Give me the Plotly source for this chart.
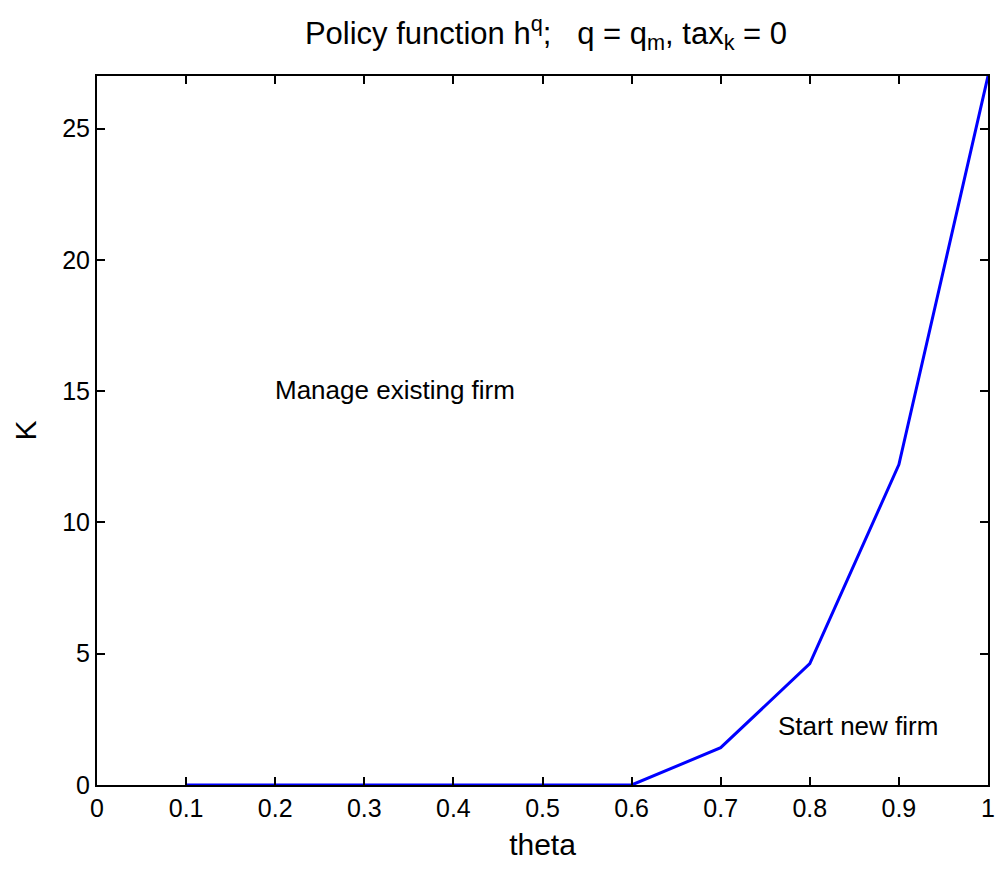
import plotly.graph_objects as go

theta = [0.1, 0.2, 0.3, 0.4, 0.5, 0.6, 0.7, 0.8, 0.9, 1.0]
K = [0, 0, 0, 0, 0, 0, 1.42, 4.62, 12.2, 27.0]
x_ticks = [0, 0.1, 0.2, 0.3, 0.4, 0.5, 0.6, 0.7, 0.8, 0.9, 1]
x_ticklabels = ["0", "0.1", "0.2", "0.3", "0.4", "0.5", "0.6", "0.7", "0.8", "0.9", "1"]
y_ticks = [0, 5, 10, 15, 20, 25]

font_family = "Liberation Sans, Arial, sans-serif"

fig = go.Figure()
fig.add_trace(go.Scatter(x=theta, y=K, mode="lines",
                         line=dict(color="rgb(0,0,255)", width=3),
                         showlegend=False))

fig.add_annotation(x=0.198, y=15.05, text="Manage existing firm", showarrow=False,
                   xanchor="left", yanchor="middle", font=dict(size=26, color="black"))
fig.add_annotation(x=0.762, y=2.25, text="Start new firm", showarrow=False,
                   xanchor="left", yanchor="middle", font=dict(size=26, color="black"))

axis_common = dict(showline=True, linecolor="black", linewidth=2, mirror="ticks",
                   ticks="inside", ticklen=8, tickwidth=1.5, tickcolor="black",
                   showgrid=False, zeroline=False,
                   tickfont=dict(size=25, color="black"))

fig.update_xaxes(range=[0, 1], tickvals=x_ticks, ticktext=x_ticklabels,
                 title=dict(text="theta", font=dict(size=30, color="black"), standoff=13),
                 **axis_common)
fig.update_yaxes(range=[0, 27], tickvals=y_ticks,
                 title=dict(text="K", font=dict(size=30, color="black"), standoff=17),
                 **axis_common)

fig.update_layout(
    width=1004, height=869,
    margin=dict(l=97, r=9, t=76, b=84),
    paper_bgcolor="white", plot_bgcolor="white",
    font=dict(family=font_family, color="black"),
    title=dict(text="Policy function h<sup>q</sup>;   q = q<sub>m</sub>, tax<sub>k</sub> = 0",
               x=(97 + 995) / 2 / 1004, xanchor="center", y=0.962, yanchor="middle",
               font=dict(size=31, color="black")),
)

fig.write_html("out.html")
